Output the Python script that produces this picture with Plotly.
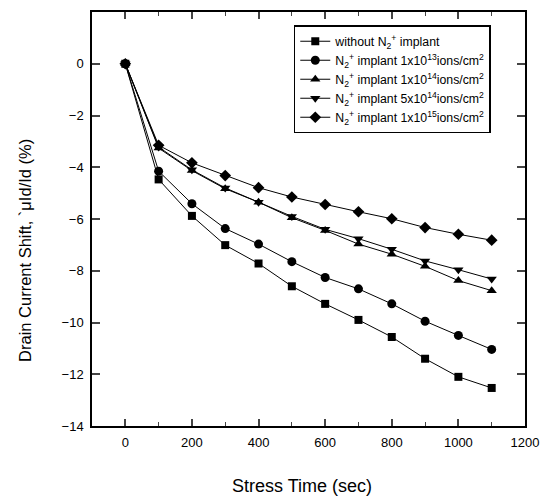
import plotly.graph_objects as go

stress_time = [0, 100, 200, 300, 400, 500, 600, 700, 800, 900, 1000, 1100]

without_implant = [0, -4.47, -5.88, -7.01, -7.72, -8.6, -9.28, -9.9, -10.56, -11.4, -12.1, -12.53]
implant_1e13 = [0, -4.15, -5.41, -6.37, -6.97, -7.65, -8.26, -8.7, -9.28, -9.95, -10.5, -11.04]
implant_1e14 = [0, -3.26, -4.13, -4.83, -5.35, -5.95, -6.44, -6.97, -7.36, -7.83, -8.38, -8.77]
implant_5e14 = [0, -3.22, -4.1, -4.8, -5.35, -5.9, -6.4, -6.76, -7.17, -7.62, -7.96, -8.32]
implant_1e15 = [0, -3.15, -3.83, -4.32, -4.79, -5.15, -5.44, -5.72, -5.99, -6.33, -6.59, -6.82]

series_names = [
    "without N<sub>2</sub><sup>+</sup> implant",
    "N<sub>2</sub><sup>+</sup> implant 1x10<sup>13</sup>ions/cm<sup>2</sup>",
    "N<sub>2</sub><sup>+</sup> implant 1x10<sup>14</sup>ions/cm<sup>2</sup>",
    "N<sub>2</sub><sup>+</sup> implant 5x10<sup>14</sup>ions/cm<sup>2</sup>",
    "N<sub>2</sub><sup>+</sup> implant 1x10<sup>15</sup>ions/cm<sup>2</sup>",
]
series_values = [without_implant, implant_1e13, implant_1e14, implant_5e14, implant_1e15]
symbols = ["square", "circle", "triangle-up", "triangle-down", "diamond"]
sizes = [8, 9, 9, 9, 9]

x_ticks = [0, 200, 400, 600, 800, 1000, 1200]
y_ticks = [0, -2, -4, -6, -8, -10, -12, -14]

x_title = "Stress Time (sec)"
y_title = "Drain Current Shift, `μId/Id (%)"

FONT = "Liberation Sans, Arial, sans-serif"

fig = go.Figure()
for name, vals, sym, sz in zip(series_names, series_values, symbols, sizes):
    fig.add_trace(go.Scatter(
        x=stress_time, y=vals, name=name, mode="lines+markers",
        line=dict(color="black", width=1),
        marker=dict(symbol=sym, size=sz, color="black"),
    ))

fig.add_annotation(text=x_title, xref="paper", yref="paper", x=0.484, y=-0.144,
                   xanchor="center", yanchor="middle", showarrow=False,
                   font=dict(size=18, family=FONT, color="black"))
fig.add_annotation(text=y_title, xref="paper", yref="paper", x=-0.155, y=0.425,
                   xanchor="center", yanchor="middle", showarrow=False, textangle=-90,
                   font=dict(size=16.5, family=FONT, color="black"))

fig.update_layout(
    width=541, height=491,
    margin=dict(l=84, r=24, t=2, b=73),
    paper_bgcolor="white", plot_bgcolor="white",
    font=dict(family=FONT, size=13, color="black"),
    xaxis=dict(
        range=[-100, 1200], tickvals=x_ticks, ticks="inside", ticklen=7, tickwidth=1.5,
        showline=True, linewidth=1.5, linecolor="black", mirror="ticks",
        showgrid=False, zeroline=False,
        minor=dict(dtick=100, tick0=0, ticks="inside", ticklen=4, tickwidth=1.2),
        tickfont=dict(size=13), ticklabelstandoff=4,
    ),
    yaxis=dict(
        range=[-14, 2], tickvals=y_ticks, ticks="inside", ticklen=8, tickwidth=1.5,
        showline=True, linewidth=1.5, linecolor="black", mirror="ticks",
        showgrid=False, zeroline=False,
        tickfont=dict(size=13), ticklabelstandoff=4,
    ),
    legend=dict(
        x=0.466, y=0.968, xanchor="left", yanchor="top",
        bordercolor="black", borderwidth=1.5, bgcolor="white",
        font=dict(size=12.3, family=FONT), tracegroupgap=0,
        itemwidth=30,
    ),
)

fig.write_html("out.html")
